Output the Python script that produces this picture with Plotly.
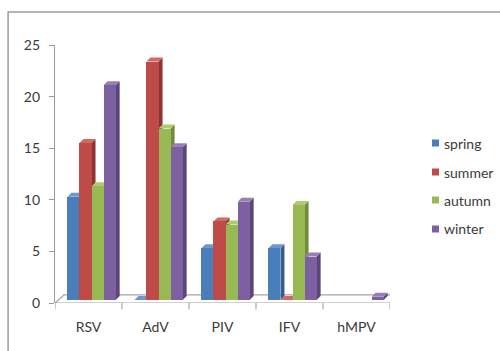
import plotly.graph_objects as go

# Detections per virus and season
viruses = ["RSV", "AdV", "PIV", "IFV", "hMPV"]
seasons = ["spring", "summer", "autumn", "winter"]
spring = [10, 0, 5, 5, None]
summer = [15.2, 23.1, 7.6, 0, None]
autumn = [11, 16.6, 7.3, 9.2, None]
winter = [20.8, 14.8, 9.5, 4.2, 0.3]
y_ticks = [0, 5, 10, 15, 20, 25]

series = [spring, summer, autumn, winter]
front = ["#4A7EBB", "#BE4B48", "#98B954", "#7D60A0"]
side = ["#355E8F", "#8C3432", "#728B3E", "#5B4678"]
top = ["#6A98D0", "#D26764", "#AECB6E", "#9580B6"]

BW = 0.18        # bar width (category units)
SHIFT = 0.045    # bars stand mid-depth on the floor
BASE = 0.3       # floor height under the bars
DX, DY = 0.06, 0.39      # bar depth offset
FDX, FDY = 0.135, 0.78   # floor depth offset

fig = go.Figure()
shapes = []

# floor of the 3D plot
shapes.append(dict(
    type="path", xref="x", yref="y", layer="below",
    path=f"M -0.5 0 L 4.5 0 L {4.5+FDX} {FDY} L {-0.5+FDX} {FDY} Z",
    fillcolor="white", line=dict(color="#a6a6a6", width=1.2)))

for j, vals in enumerate(series):
    xs = [i + SHIFT + (j - 1.5) * BW for i in range(len(viruses))]
    fig.add_trace(go.Bar(
        x=xs, y=vals, base=BASE, width=BW, name=seasons[j],
        marker=dict(color=front[j], line=dict(width=0)),
        showlegend=False))
    for x, v in zip(xs, vals):
        if v is None:
            continue
        x0, x1 = x - BW / 2, x + BW / 2
        t = BASE + v
        if v > 0:
            shapes.append(dict(
                type="path", xref="x", yref="y", layer="below",
                path=f"M {x1} {BASE} L {x1+DX} {BASE+DY} L {x1+DX} {t+DY} L {x1} {t} Z",
                fillcolor=side[j], line=dict(width=0)))
        shapes.append(dict(
            type="path", xref="x", yref="y", layer="below",
            path=f"M {x0} {t} L {x0+DX} {t+DY} L {x1+DX} {t+DY} L {x1} {t} Z",
            fillcolor=top[j], line=dict(width=0)))

# tick marks between categories
for k in range(len(viruses) + 1):
    shapes.append(dict(type="line", xref="x", yref="paper",
                       x0=k - 0.5, x1=k - 0.5, y0=0, y1=-0.024,
                       line=dict(color="#a6a6a6", width=1.2)))

# outer chart frame
shapes.append(dict(type="rect", xref="paper", yref="paper",
                   x0=-0.14, x1=1.6, y0=-0.6, y1=1.128,
                   line=dict(color="#9c9c9c", width=1.5), fillcolor="rgba(0,0,0,0)"))

# legend
annotations = []
leg_y = [143, 172, 200, 229]
for j, name in enumerate(seasons):
    py = (303 - leg_y[j]) / 258
    shapes.append(dict(type="rect", xref="paper", yref="paper",
                       x0=(432 - 55) / 335, x1=(439 - 55) / 335,
                       y0=py - 3.5 / 258, y1=py + 3.5 / 258,
                       fillcolor=front[j], line=dict(width=0)))
    annotations.append(dict(xref="paper", yref="paper", x=(442 - 55) / 335, y=py,
                            text=name, showarrow=False, xanchor="left", yanchor="middle",
                            font=dict(size=14, color="#3a3a3a", family="Lato")))

fig.update_layout(
    width=500, height=351,
    margin=dict(l=55, r=110, t=45, b=48),
    paper_bgcolor="white", plot_bgcolor="rgba(0,0,0,0)",
    barmode="overlay", bargap=0,
    shapes=shapes, annotations=annotations,
    font=dict(family="Lato", size=14, color="#3a3a3a"),
    xaxis=dict(range=[-0.5, 4.5], tickvals=list(range(len(viruses))), ticktext=viruses,
               showgrid=False, zeroline=False, showline=False, ticks="",
               ticklabelstandoff=14, fixedrange=True),
    yaxis=dict(range=[0, 25], tickvals=y_ticks, showgrid=False, zeroline=False,
               showline=True, linecolor="#9c9c9c", linewidth=1.2,
               ticks="outside", ticklen=5, tickcolor="#9c9c9c",
               ticklabelstandoff=6, fixedrange=True),
)

fig.write_html("out.html")
